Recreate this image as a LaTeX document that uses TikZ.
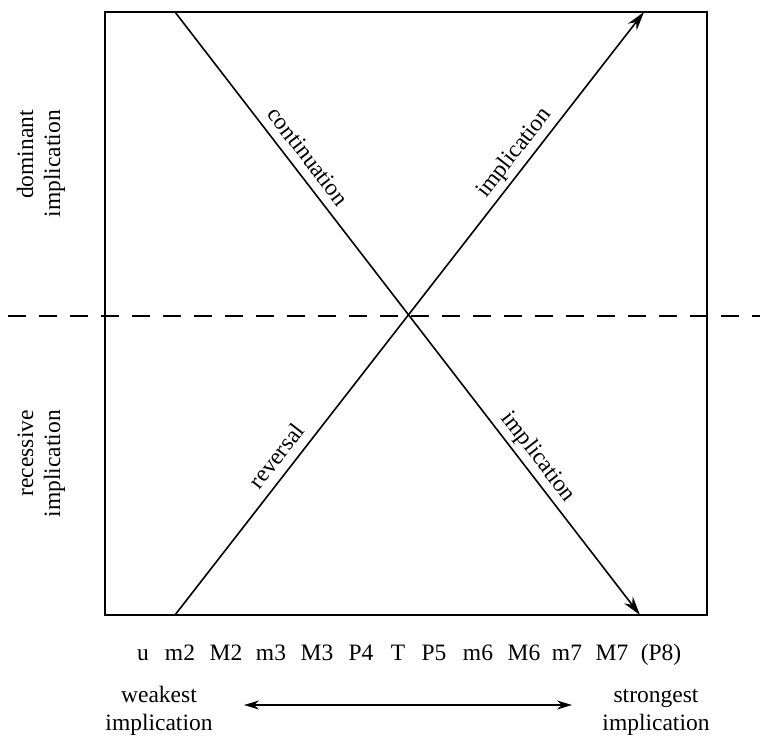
\documentclass[tikz,border=0pt]{standalone}
\usepackage{fontspec}
\setmainfont{Liberation Serif}
\usetikzlibrary{arrows.meta}

\tikzset{
  frame/.style={line width=1.6pt},
  diag/.style={line width=1.6pt},
  tipped/.style={-{Stealth[length=19pt,width=11pt]}},
  divider/.style={line width=1.7pt, dash pattern=on 18pt off 13pt},
  txt/.style={font=\fontsize{23.5}{28}\selectfont, inner sep=0pt},
  lbl/.style={txt, sloped, above=9pt, text depth=0pt},
  sidelbl/.style={txt, rotate=90, anchor=base east},
  ivl/.style={txt, anchor=base},
  endlbl/.style={txt, anchor=base},
  scalearrow/.style={line width=1.6pt, {Stealth[length=15pt,width=9pt]}-{Stealth[length=15pt,width=9pt]}},
}

\begin{document}
\begin{tikzpicture}[x=1pt,y=1pt]
\useasboundingbox (0,0) rectangle (767,-736);

% corners of the frame
\coordinate (tl) at (105,-12);
\coordinate (br) at (707,-615);

% end points of the two diagonals
\coordinate (dtop) at (175,-12);
\coordinate (dbot) at (640,-615);
\coordinate (rbot) at (175,-615);
\coordinate (rtop) at (644,-12);

% dashed divider
\coordinate (hl) at (8,-316);
\coordinate (hr) at (760,-316);

\draw[frame] (tl) rectangle (br);
\draw[divider] (hl) -- (hr);

% continuation / implication (falling line)
\draw[diag, tipped] (dtop) --
  node[lbl, pos=0.257] (cont) {continuation}
  node[lbl, pos=0.754] (implo) {implication}
  (dbot);

% reversal / implication (rising line)
\draw[diag, tipped] (rbot) --
  node[lbl, pos=0.246] (rev) {reversal}
  node[lbl, pos=0.75] (implu) {implication}
  (rtop);

% side labels
\node[sidelbl] (dom1) at (33,-110) {dominant};
\node[sidelbl] (dom2) at (60,-110) {implication};
\node[sidelbl] (rec1) at (33,-410) {recessive};
\node[sidelbl] (rec2) at (60,-410) {implication};

% interval names along the bottom
\node[ivl] (i0) at (143,-660) {u};
\node[ivl] (i1) at (180,-660) {m2};
\node[ivl] (i2) at (226,-660) {M2};
\node[ivl] (i3) at (271,-660) {m3};
\node[ivl] (i4) at (317,-660) {M3};
\node[ivl] (i5) at (361,-660) {P4};
\node[ivl] (i6) at (398,-660) {T};
\node[ivl] (i7) at (434,-660) {P5};
\node[ivl] (i8) at (478,-660) {m6};
\node[ivl] (i9) at (524,-660) {M6};
\node[ivl] (i10) at (567,-660) {m7};
\node[ivl] (i11) at (612,-660) {M7};
\node[ivl] (i12) at (661,-660) {(P8)};

% scale from weakest to strongest
\node[endlbl] (weak1) at (159,-702) {weakest};
\node[endlbl] (weak2) at (159,-730) {implication};
\node[endlbl] (strong1) at (656,-702) {strongest};
\node[endlbl] (strong2) at (656,-730) {implication};
\coordinate (aw) at (244,-705);
\coordinate (as) at (572,-705);
\draw[scalearrow] (aw) -- (as);
\end{tikzpicture}
\end{document}
